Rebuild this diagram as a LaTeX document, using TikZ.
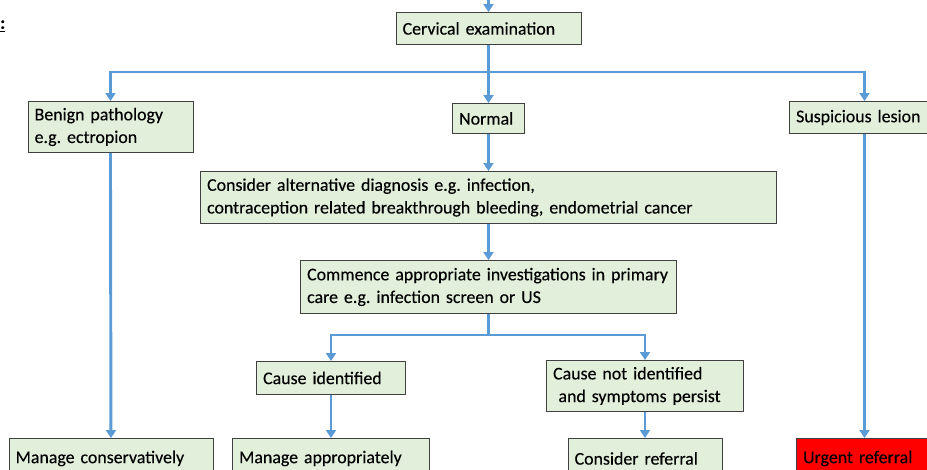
\documentclass[tikz,border=0pt]{standalone}
\usepackage{fontspec}
\setmainfont{Carlito}[FakeBold=0.5]
\usetikzlibrary{arrows.meta}

\definecolor{boxgreen}{HTML}{E2EFDA}
\definecolor{flowblue}{HTML}{5B9BD5}
\definecolor{urgentred}{HTML}{FF0000}

\tikzset{
  stage/.style={draw=black!75, fill=boxgreen, line width=0.7pt, anchor=north west,
    align=left, inner xsep=5pt, inner ysep=0pt, font=\fontsize{13.4}{17}\selectfont\addfontfeature{FakeBold=0.25}},
  flow/.style={draw=flowblue, line width=2.2pt, -{Triangle[length=6pt,width=7.5pt]}},
  bar/.style={draw=flowblue, line width=2.2pt}
}

\begin{document}
\frenchspacing
\begin{tikzpicture}[x=0.75pt,y=-0.75pt]
\useasboundingbox (0,0) rectangle (927,469);
\clip (0,0) rectangle (927,469);
% boxes, top row
\node[stage, text width=128.75pt, minimum height=24pt] (cerv) at (395.5,12) {Cervical examination};
\node[stage, text width=113.75pt, minimum height=38.25pt] (benign) at (27.5,101) {Benign pathology\\e.g. ectropion};
\node[stage, text width=44pt, minimum height=22.5pt] (normal) at (452,103) {Normal};
\node[stage, text width=102.5pt, minimum height=24pt] (susp) at (789,101) {Suspicious lesion};
% middle
\node[stage, text width=422pt, minimum height=39pt] (alt) at (200,171) {Consider alternative diagnosis e.g. infection,\\contraception related breakthrough bleeding, endometrial cancer};
\node[stage, text width=272pt, minimum height=39.75pt] (comm) at (300,260) {Commence appropriate investigations in primary\\care e.g. infection screen or US};
\node[stage, text width=101.75pt, minimum height=24.75pt] (cid) at (256,361) {Cause identified};
\node[stage, text width=137.75pt, minimum height=38.25pt] (cnid) at (546,360) {Cause not identified\\\hspace*{0.3em}and symptoms persist};
% bottom row
\node[stage, text width=143pt, minimum height=30pt] (mcons) at (8.5,438) {Manage conservatively};
\node[stage, text width=137.75pt, minimum height=30pt] (mapp) at (232,438) {Manage appropriately};
\node[stage, text width=105.5pt, minimum height=30pt] (cref) at (567.5,438) {Consider referral};
\node[stage, fill=urgentred, text width=92pt, minimum height=30pt] (urg) at (796,438) {Urgent referral};
% title fragment
\node[anchor=west, inner sep=0pt, font=\fontsize{13.4}{16}\selectfont\bfseries] (title) at (0,26) {\underline{:}};

\coordinate (entry) at (cerv.north |- 0,-5);
\coordinate (split1) at (cerv.south |- 0,72);
\coordinate (split2) at (comm.south |- 0,335);

\draw[flow] (entry) -- (cerv.north);
\draw[flow] (cerv.south) -- (normal.north);
\draw[flow] (split1) -| (benign.north);
\draw[flow] (split1) -| (susp.north);
\draw[flow] (normal.south) -- (alt.north);
\draw[flow] (alt.south) -- (comm.north);
\draw[bar] (comm.south) -- (split2);
\draw[flow] (split2) -| (cid.north);
\draw[flow] (split2) -| (cnid.north);
\draw[flow] (benign.south) -- (mcons.north);
\draw[flow] (cid.south) -- (mapp.north);
\draw[flow] (cnid.south) -- (cref.north);
\draw[flow] (susp.south) -- (urg.north);
\end{tikzpicture}
\end{document}
